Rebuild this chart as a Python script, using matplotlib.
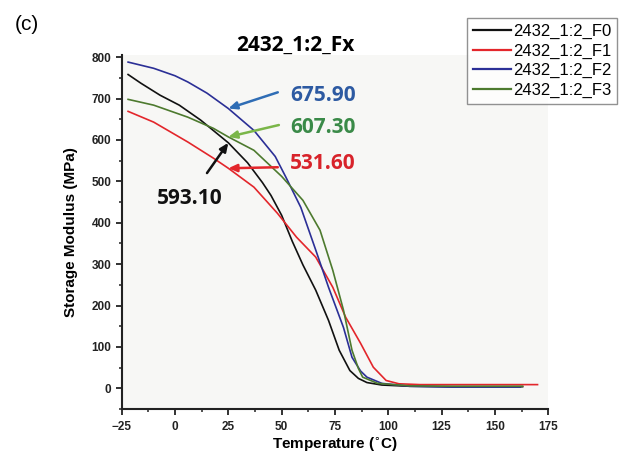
import matplotlib
matplotlib.use("Agg")
import matplotlib.pyplot as plt
from matplotlib.ticker import MultipleLocator

# Storage modulus (MPa) versus temperature (°C) for the four formulations
t_f0 = [-22, -16, -7, 2, 12, 21, 25, 34, 41, 45, 50, 55, 60, 66, 72, 77, 82, 86, 90, 97, 110, 130, 150, 163]
e_f0 = [758, 737, 708, 684, 648, 610, 593.1, 545, 497, 466, 418, 355, 298, 237, 164, 92, 43, 24, 14, 8, 5, 4, 4, 4]

t_f1 = [-22, -10, 6, 18, 25, 37, 48, 57, 66, 74, 80, 87, 93, 99, 105, 115, 130, 150, 170]
e_f1 = [669, 643, 595, 556, 531.6, 486, 423, 365, 317, 244, 172, 109, 51, 19, 11, 9, 9, 9, 9]

t_f2 = [-22, -10, 0, 6, 15, 25, 37, 47, 52, 59, 66, 72, 79, 83, 87, 90, 97, 110, 130, 150, 162]
e_f2 = [788, 773, 755, 740, 713, 675.9, 623, 560, 510, 437, 334, 244, 147, 75, 42, 27, 12, 5, 3, 3, 3]

t_f3 = [-22, -10, 6, 18, 25, 37, 50, 60, 68, 74, 79, 83, 86, 88, 95, 110, 130, 150, 163]
e_f3 = [698, 684, 655, 628, 607.3, 575, 512, 454, 382, 285, 189, 92, 48, 27, 12, 6, 5, 5, 5]

series_labels = ["2432_1:2_F0", "2432_1:2_F1", "2432_1:2_F2", "2432_1:2_F3"]
line_colors = ["#111111", "#e3262b", "#2b2f96", "#4d7a2e"]

# values called out at 25 °C
callout_temp = 25
callout_values = [593.10, 531.60, 675.90, 607.30]
callout_text_colors = ["#111111", "#d8232a", "#2d5aa2", "#3a8a48"]
callout_arrow_colors = ["#111111", "#e3262b", "#2f6db5", "#7ab648"]

plt.rcParams["font.family"] = ["Liberation Sans", "DejaVu Sans"]

fig = plt.figure(figsize=(6.19, 4.55), dpi=100)
fig.patch.set_facecolor("white")
ax = fig.add_axes([0.1966, 0.101, 0.689, 0.778])
ax.set_facecolor("#f7f7f5")

for t, e, lab, c in zip([t_f0, t_f1, t_f2, t_f3], [e_f0, e_f1, e_f2, e_f3],
                        series_labels, line_colors):
    ax.plot(t, e, color=c, lw=1.2, label=lab)

ax.set_xlim(-25, 175)
ax.set_ylim(-50, 805)
ax.xaxis.set_major_locator(MultipleLocator(25))
ax.xaxis.set_minor_locator(MultipleLocator(12.5))
ax.yaxis.set_major_locator(MultipleLocator(100))
ax.yaxis.set_minor_locator(MultipleLocator(50))
ax.set_yticks(range(0, 801, 100))

for side in ("top", "right"):
    ax.spines[side].set_visible(False)
for side in ("left", "bottom"):
    ax.spines[side].set_linewidth(1.5)
    ax.spines[side].set_color("#222222")

ax.tick_params(axis="both", which="major", direction="out", length=4.5, width=1.3,
               labelsize=8.5, colors="#222222")
ax.tick_params(axis="x", which="major", pad=4)
ax.tick_params(axis="y", which="major", pad=3)
ax.tick_params(axis="both", which="minor", direction="out", length=2.5, width=1.1,
               colors="#222222")
for lbl in ax.get_xticklabels() + ax.get_yticklabels():
    lbl.set_fontweight("bold")

ax.set_xlabel("Temperature ($^{\\circ}$C)", fontsize=11, fontweight="bold", labelpad=2)
ax.set_ylabel("Storage Modulus (MPa)", fontsize=11, fontweight="bold", labelpad=10)

callout_font = ["Open Sans", "DejaVu Sans"]
ax.text(56.6, 829, "2432_1:2_Fx", fontsize=15, fontweight="bold", family=callout_font,
        ha="center", va="center", clip_on=False)

# text position, arrow tail for each callout (F0, F1, F2, F3)
text_pos = [(7.0, 459), (54.0, 544), (54.0, 708), (54.0, 631)]
tail_pos = [(15.0, 520), (48.2, 534), (48.2, 715), (48.7, 636)]
text_ha = ["center", "left", "left", "left"]

for val, tc, ac, tp, tl, ha in zip(callout_values, callout_text_colors,
                                   callout_arrow_colors, text_pos, tail_pos, text_ha):
    ax.text(tp[0], tp[1], f"{val:.2f}", color=tc, fontsize=15, fontweight="bold",
            family=callout_font, ha=ha, va="center")
    ax.annotate("", xy=(callout_temp, val), xytext=tl,
                arrowprops=dict(arrowstyle="-|>,head_length=0.5,head_width=0.22",
                                color=ac, lw=1.8, shrinkA=0, shrinkB=0))

fig.text(0.024, 0.947, "(c)", fontsize=15, ha="left", va="center")

leg = fig.legend(loc="upper right", bbox_to_anchor=(617 / 619, 1 - 18 / 455),
                 fontsize=12, frameon=True, fancybox=False, handlelength=2.3,
                 handletextpad=0.1, labelspacing=0.27, borderpad=0.35,
                 borderaxespad=0.0)
leg.get_frame().set_edgecolor("#777777")
leg.get_frame().set_linewidth(1.0)
for line in leg.get_lines():
    line.set_linewidth(1.6)

fig.savefig("out.png", dpi=100)
